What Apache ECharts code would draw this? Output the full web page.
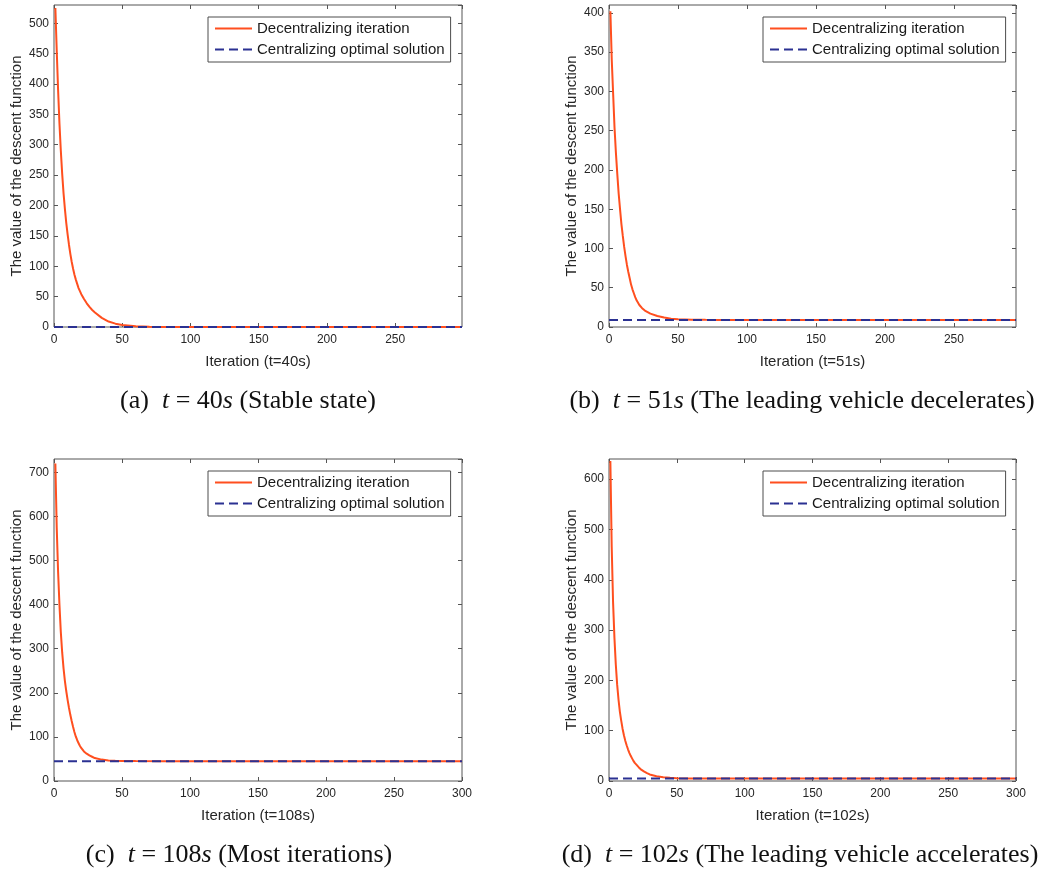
<!DOCTYPE html>
<html>
<head>
<meta charset="utf-8">
<script src="https://cdn.jsdelivr.net/npm/echarts@6/dist/echarts.min.js"></script>
<style>
html, body { margin: 0; padding: 0; background: #fff; }
#chart { width: 1052px; height: 872px; }
</style>
</head>
<body>
<div id="chart"></div>
<script>
// series names and axis texts
const seriesNames = ['Decentralizing iteration', 'Centralizing optimal solution'];
const xTitles = ['Iteration (t=40s)', 'Iteration (t=51s)', 'Iteration (t=108s)', 'Iteration (t=102s)'];
const yTitle = 'The value of the descent function';

// (a) t = 40s
const iterA = [1, 2, 3, 4, 5, 6, 7, 8, 9, 10, 11, 12, 13, 14, 15, 16, 17, 18, 19, 20, 22, 24, 26, 28, 30, 35, 40, 45, 50, 60, 70, 80, 100, 299];
const decA  = [525, 455, 390, 335, 290, 252, 220, 194, 171, 152, 135, 120, 107, 96, 86, 78, 71, 64, 59, 54, 46, 39, 33, 28, 24, 15, 9, 5.5, 3.2, 1.2, 0.5, 0.2, 0, 0];
// (b) t = 51s
const iterB = [1, 2, 3, 4, 5, 6, 7, 8, 9, 10, 11, 12, 13, 14, 15, 16, 17, 18, 19, 20, 22, 24, 26, 28, 30, 35, 40, 45, 50, 60, 70, 80, 295];
const decB  = [402, 340, 297, 254, 222, 195, 170, 150, 131, 116, 102, 90, 79, 70, 62, 54, 48, 43, 38, 34, 28, 24, 21, 19, 17, 14, 12, 10.5, 9.8, 9.3, 9.1, 9, 9];
// (c) t = 108s
const iterC = [1, 2, 3, 4, 5, 6, 7, 8, 9, 10, 11, 12, 13, 14, 15, 16, 17, 18, 19, 20, 22, 24, 26, 28, 30, 35, 40, 45, 50, 60, 80, 300];
const decC  = [720, 575, 475, 400, 338, 292, 256, 227, 204, 184, 166, 150, 136, 123, 111, 101, 93, 86, 80, 75, 67, 62, 58, 55, 52, 48.5, 46.5, 45.8, 45.4, 45.1, 45, 45];
// (d) t = 102s
const iterD = [1, 2, 3, 4, 5, 6, 7, 8, 9, 10, 11, 12, 13, 14, 15, 16, 17, 18, 19, 20, 22, 24, 26, 28, 30, 35, 40, 45, 50, 60, 80, 300];
const decD  = [636, 465, 355, 285, 232, 192, 162, 138, 120, 104, 91, 80, 71, 63, 56, 50, 45, 40, 36, 33, 27, 22, 18.5, 15.5, 13, 9.5, 7.5, 6.3, 5.7, 5.2, 5, 5];

// centralizing optimal value per panel
const optimal = [0, 9, 45, 5];

// axis extents and tick steps
const xMax = [299, 295, 300, 300];
const xStep = [50, 50, 50, 50];
const yMax = [530, 410, 730, 640];
const yStep = [50, 50, 100, 100];

// captions
const capLabels = ['(a)', '(b)', '(c)', '(d)'];
const capTimes = ['40', '51', '108', '102'];
const capTexts = ['(Stable state)', '(The leading vehicle decelerates)', '(Most iterations)', '(The leading vehicle accelerates)'];

const iters = [iterA, iterB, iterC, iterD];
const decs = [decA, decB, decC, decD];

const SANS = 'Liberation Sans, Arial, sans-serif';
const SERIF = 'Liberation Serif, Times New Roman, serif';
const boxColor = '#555555';
const textColor = '#262626';
const redColor = '#FF4F1F';
const blueColor = '#2B3192';

const grids = [
  { left: 54, top: 5, width: 408, height: 322 },
  { left: 609, top: 5, width: 407, height: 322 },
  { left: 54, top: 459, width: 408, height: 322 },
  { left: 609, top: 459, width: 407, height: 322 }
];
const legendPos = [
  { left: 208, top: 17 },
  { left: 763, top: 17 },
  { left: 208, top: 471 },
  { left: 763, top: 471 }
];
const capPos = [
  { x: 248, y: 401 },
  { x: 802, y: 401 },
  { x: 239, y: 855 },
  { x: 800, y: 855 }
];

const tick = () => ({ show: true, inside: true, length: 4, lineStyle: { color: boxColor, width: 1 } });
const noLine = () => ({ show: false, onZero: false });

const xAxes = [];
const yAxes = [];
const series = [];
grids.forEach((g, i) => {
  xAxes.push({
    type: 'value', gridIndex: i, position: 'bottom', min: 0, max: xMax[i], interval: xStep[i],
    axisLine: noLine(), axisTick: tick(), splitLine: { show: false },
    axisLabel: { interval: 0, margin: 7, fontSize: 12, color: textColor, fontFamily: SANS,
      showMinLabel: true, showMaxLabel: xMax[i] % xStep[i] === 0 },
    name: xTitles[i], nameLocation: 'middle', nameGap: 27,
    nameTextStyle: { fontSize: 15, color: textColor, fontFamily: SANS }
  });
  xAxes.push({
    type: 'value', gridIndex: i, position: 'top', min: 0, max: xMax[i], interval: xStep[i],
    axisLine: noLine(), axisTick: tick(), splitLine: { show: false }, axisLabel: { show: false }
  });
  yAxes.push({
    type: 'value', gridIndex: i, position: 'left', min: 0, max: yMax[i], interval: yStep[i],
    axisLine: noLine(), axisTick: tick(), splitLine: { show: false },
    axisLabel: { interval: 0, margin: 5, fontSize: 12, color: textColor, fontFamily: SANS,
      showMinLabel: true, showMaxLabel: false },
    name: yTitle, nameLocation: 'middle', nameGap: 30,
    nameTextStyle: { fontSize: 15, color: textColor, fontFamily: SANS }
  });
  yAxes.push({
    type: 'value', gridIndex: i, position: 'right', min: 0, max: yMax[i], interval: yStep[i],
    axisLine: noLine(), axisTick: tick(), splitLine: { show: false }, axisLabel: { show: false }
  });

  series.push({
    name: seriesNames[0], type: 'line', xAxisIndex: i * 2, yAxisIndex: i * 2,
    data: iters[i].map((x, k) => [x, decs[i][k]]),
    symbol: 'none', showSymbol: false, smooth: false, clip: false,
    lineStyle: { color: redColor, width: 2 }, itemStyle: { color: redColor }
  });
  series.push({
    name: seriesNames[1], type: 'line', xAxisIndex: i * 2, yAxisIndex: i * 2,
    data: [[0, optimal[i]], [xMax[i], optimal[i]]],
    symbol: 'none', showSymbol: false, clip: false,
    lineStyle: { color: blueColor, width: 2, type: [9, 5] }, itemStyle: { color: blueColor }
  });
});

const legends = legendPos.map(p => ({
  data: seriesNames, left: p.left, top: p.top, orient: 'vertical',
  itemWidth: 37, itemHeight: 15, itemGap: 6, padding: [4, 6, 5, 6],
  borderColor: '#4d4d4d', borderWidth: 1, backgroundColor: '#fff',
  selectedMode: false,
  itemStyle: { opacity: 0 },
  textStyle: { fontSize: 15, color: '#1a1a1a', fontFamily: SANS }
}));

const captions = capPos.map((p, i) => ({
  type: 'text', x: p.x, y: p.y,
  style: {
    text: capLabels[i] + '  {i|t} = ' + capTimes[i] + '{i|s} ' + capTexts[i],
    fontSize: 26, fontFamily: SERIF, fill: '#111',
    align: 'center', verticalAlign: 'middle',
    rich: { i: { fontStyle: 'italic', fontSize: 26, fontFamily: SERIF } }
  }
}));

const chart = echarts.init(document.getElementById('chart'));
chart.setOption({
  animation: false,
  backgroundColor: '#fff',
  grid: grids.map(g => Object.assign({ show: true, borderColor: boxColor, borderWidth: 1, backgroundColor: '#fff' }, g)),
  xAxis: xAxes,
  yAxis: yAxes,
  legend: legends,
  graphic: captions,
  series: series
});
</script>
</body>
</html>
